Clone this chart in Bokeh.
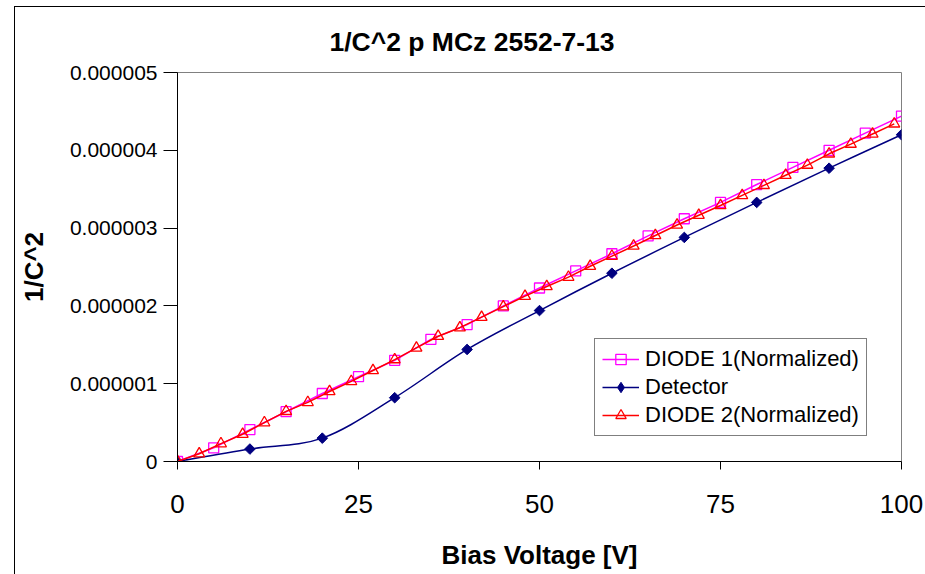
import numpy as np
from bokeh.plotting import figure
from bokeh.models import FixedTicker, Legend, LegendItem, ColumnDataSource
from bokeh.embed import file_html
from bokeh.resources import INLINE

# ---------------- data ----------------
title_text = "1/C^2 p MCz 2552-7-13"
x_label = "Bias Voltage [V]"
y_label = "1/C^2"

x_ticks = [0, 25, 50, 75, 100]
y_ticks = [0, 1e-6, 2e-6, 3e-6, 4e-6, 5e-6]
y_tick_labels = ["0", "0.000001", "0.000002", "0.000003", "0.000004", "0.000005"]

diode1_v = [0, 5, 10, 15, 20, 25, 30, 35, 40, 45, 50, 55, 60, 65, 70, 75, 80, 85, 90, 95, 100]
diode1_c = [0.0, 0.176e-6, 0.41e-6, 0.64e-6, 0.874e-6, 1.09e-6, 1.30e-6, 1.57e-6, 1.76e-6,
            2.00e-6, 2.23e-6, 2.45e-6, 2.67e-6, 2.90e-6, 3.12e-6, 3.33e-6, 3.56e-6,
            3.78e-6, 4.00e-6, 4.22e-6, 4.44e-6]

detector_v = [0, 10, 20, 30, 40, 50, 60, 70, 80, 90, 100]
detector_c = [0.0, 0.16e-6, 0.30e-6, 0.82e-6, 1.44e-6, 1.94e-6, 2.42e-6, 2.88e-6,
              3.33e-6, 3.77e-6, 4.20e-6]

diode2_v = [0, 3, 6, 9, 12, 15, 18, 21, 24, 27, 30, 33, 36, 39, 42, 45, 48, 51, 54,
            57, 60, 63, 66, 69, 72, 75, 78, 81, 84, 87, 90, 93, 96, 99]
diode2_c = [0.0, 0.10e-6, 0.23e-6, 0.35e-6, 0.50e-6, 0.645e-6, 0.76e-6, 0.90e-6, 1.03e-6,
            1.17e-6, 1.31e-6, 1.46e-6, 1.61e-6, 1.72e-6, 1.855e-6, 1.99e-6, 2.125e-6,
            2.25e-6, 2.37e-6, 2.51e-6, 2.64e-6, 2.77e-6, 2.905e-6, 3.04e-6, 3.165e-6,
            3.29e-6, 3.42e-6, 3.55e-6, 3.68e-6, 3.81e-6, 3.955e-6, 4.08e-6, 4.21e-6, 4.34e-6]

label_d1 = "DIODE 1(Normalized)"
label_det = "Detector"
label_d2 = "DIODE 2(Normalized)"

FONT = "Liberation Sans"


def smooth_source(xs, ys):
    """Bezier segments (Catmull-Rom style, like a smoothed spreadsheet line)."""
    xs = np.asarray(xs, float)
    ys = np.asarray(ys, float)
    n = len(xs)
    d = dict(x0=[], y0=[], x1=[], y1=[], cx0=[], cy0=[], cx1=[], cy1=[])
    for i in range(n - 1):
        a = max(i - 1, 0)
        b = min(i + 2, n - 1)
        d["x0"].append(xs[i]); d["y0"].append(ys[i])
        d["x1"].append(xs[i + 1]); d["y1"].append(ys[i + 1])
        d["cx0"].append(xs[i] + (xs[i + 1] - xs[a]) / 6.0)
        d["cy0"].append(ys[i] + (ys[i + 1] - ys[a]) / 6.0)
        d["cx1"].append(xs[i + 1] - (xs[b] - xs[i]) / 6.0)
        d["cy1"].append(ys[i + 1] - (ys[b] - ys[i]) / 6.0)
    return ColumnDataSource(d)


p = figure(frame_width=724, frame_height=389, x_range=(0, 100), y_range=(0, 5e-6),
           output_backend="svg", toolbar_location=None,
           min_border_left=161, min_border_right=25, min_border_top=65, min_border_bottom=113)
# chart-area border (left/top visible, as in the reference); the element stays inside the window
p.styles = {"margin-left": "14px", "margin-top": "6px",
            "border-left": "1px solid black", "border-top": "1px solid black",
            "margin-bottom": "-20px", "margin-right": "-20px"}

p.background_fill_color = "white"
p.border_fill_color = "white"
p.outline_line_color = "#808080"
p.outline_line_width = 1
p.grid.visible = False

# title
p.title.text = title_text
p.title.text_font = FONT
p.title.text_font_size = "26.5px"
p.title.text_font_style = "bold"
p.title.text_color = "black"
p.title.align = "left"
p.title.offset = 152
p.title.vertical_align = "top"
p.title.standoff = 27

# axes
p.xaxis.ticker = FixedTicker(ticks=x_ticks)
p.yaxis.ticker = FixedTicker(ticks=y_ticks)
p.yaxis.major_label_overrides = {t: s for t, s in zip(y_ticks, y_tick_labels)}
for ax in (p.xaxis, p.yaxis):
    ax.axis_line_color = "black"
    ax.axis_line_width = 1
    ax.major_tick_line_color = "black"
    ax.minor_tick_line_color = None
    ax.major_tick_in = 0
    ax.major_label_text_font = FONT
    ax.major_label_text_color = "black"
    ax.axis_label_text_font = FONT
    ax.axis_label_text_font_style = "bold"
    ax.axis_label_text_font_size = "26px"
    ax.axis_label_text_color = "black"

p.xaxis.major_tick_out = 8
p.xaxis.major_label_standoff = 25
p.xaxis.major_label_text_font_size = "26px"
p.xaxis.axis_label = x_label
p.xaxis.axis_label_standoff = 24

p.yaxis.major_tick_out = 14
p.yaxis.major_label_standoff = 6
p.yaxis.major_label_text_font_size = "21px"
p.yaxis.axis_label = y_label
p.yaxis.axis_label_standoff = 18

# series
magenta = "#FF00FF"
navy = "#000080"
red = "#FF0000"

l1 = p.line(diode1_v, diode1_c, line_color=magenta, line_width=1.5)
s1 = p.scatter(diode1_v, diode1_c, marker="square", size=10, line_color=magenta,
               line_width=1.3, fill_color=None)

l_det = p.bezier(x0="x0", y0="y0", x1="x1", y1="y1", cx0="cx0", cy0="cy0", cx1="cx1", cy1="cy1",
                 source=smooth_source(detector_v, detector_c), line_color=navy, line_width=1.5)
s_det = p.scatter(detector_v, detector_c, marker="square", angle=np.pi / 4, size=7.5,
                  line_color=navy, fill_color=navy, line_width=1)
# hidden twin of the detector markers, used only for the legend's diamond symbol
s_det_leg = p.scatter(detector_v, detector_c, marker="diamond", line_color=navy,
                      fill_color=navy, line_width=1, visible=False)

l2 = p.line(diode2_v, diode2_c, line_color=red, line_width=1.5)
s2 = p.scatter(diode2_v, diode2_c, marker="triangle", size=11, line_color=red,
               line_width=1.3, fill_color=None)

legend = Legend(items=[LegendItem(label=label_d1, renderers=[l1, s1]),
                       LegendItem(label=label_det, renderers=[l_det, s_det_leg]),
                       LegendItem(label=label_d2, renderers=[l2, s2])],
                location=(417, 25))
legend.label_text_font = FONT
legend.label_text_font_size = "22px"
legend.label_text_color = "black"
legend.border_line_color = "black"
legend.border_line_width = 1
legend.background_fill_color = "white"
legend.background_fill_alpha = 1.0
legend.padding = 7
legend.spacing = 2
legend.margin = 0
legend.label_height = 26
legend.glyph_height = 26
legend.glyph_width = 37
legend.label_standoff = 6
p.add_layout(legend)

open("out.html", "w").write(file_html(p, INLINE))
